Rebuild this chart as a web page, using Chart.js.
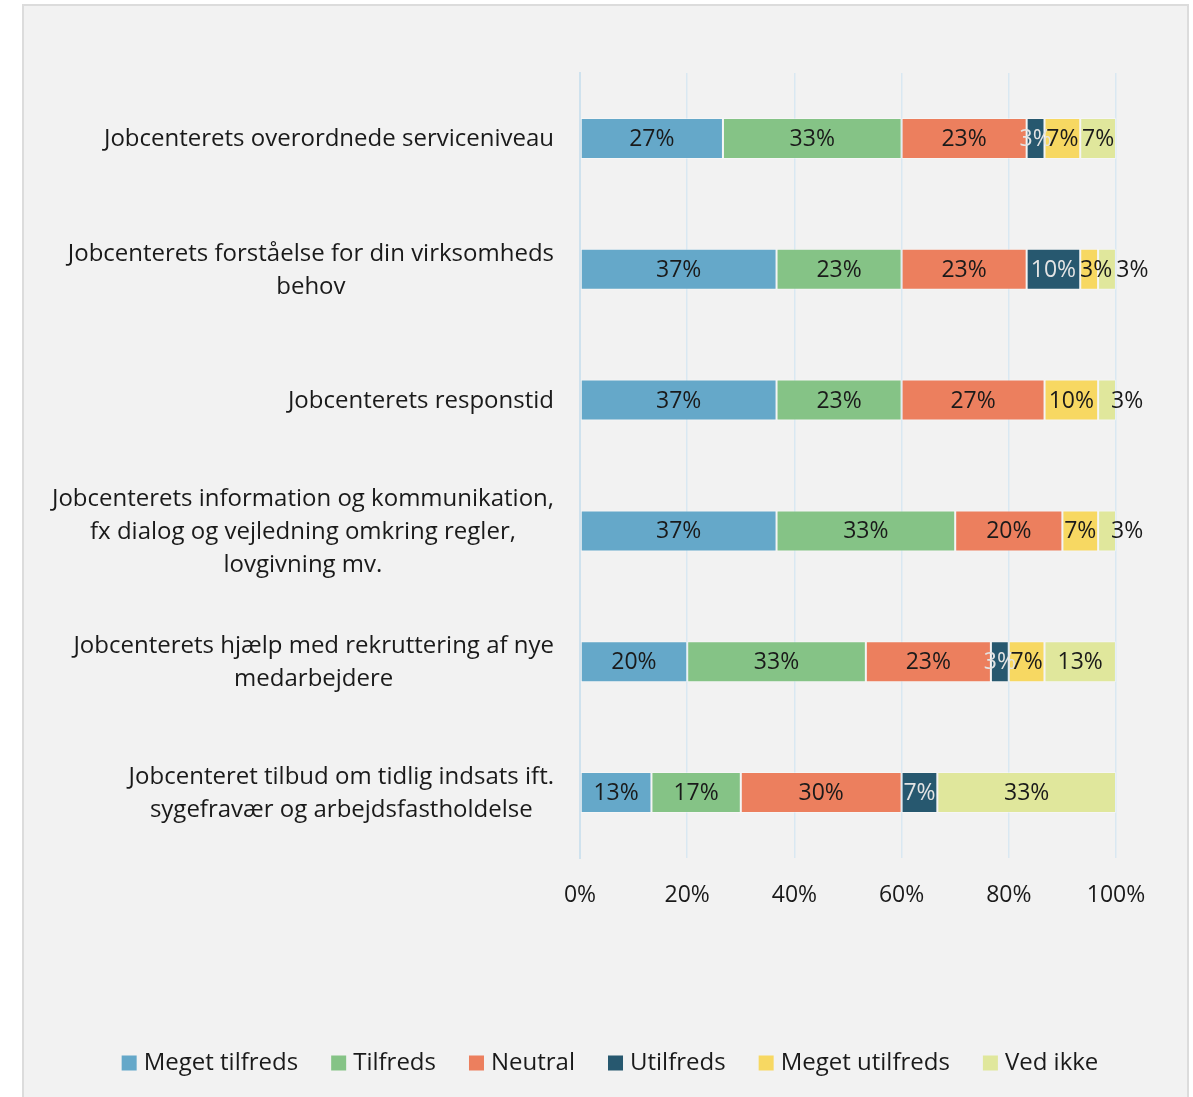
<!DOCTYPE html>
<html>
<head>
<meta charset="utf-8">
<script src="https://cdn.jsdelivr.net/npm/chart.js@4/dist/chart.umd.min.js"></script>
<style>
  html, body { margin:0; padding:0; background:#fff; }
  #box {
    position:absolute; left:22px; top:4px;
    width:1163px; height:1100px;
    border:2px solid #dcdcdc; background:#f2f2f2;
  }
  #wrap { position:absolute; left:0; top:0; width:1163px; height:1091px; }
</style>
</head>
<body>
<div id="box"><div id="wrap"><canvas id="chart"></canvas></div></div>
<script>
/* =====================
   data
===================== */
const categories = [
  ["Jobcenterets overordnede serviceniveau"],
  ["Jobcenterets forståelse for din virksomheds", "behov"],
  ["Jobcenterets responstid"],
  ["Jobcenterets information og kommunikation,", "fx dialog og vejledning omkring regler,", "lovgivning mv."],
  ["Jobcenterets hjælp med rekruttering af nye", "medarbejdere"],
  ["Jobcenteret tilbud om tidlig indsats ift.", "sygefravær og arbejdsfastholdelse"]
];

const seriesNames = ["Meget tilfreds", "Tilfreds", "Neutral", "Utilfreds", "Meget utilfreds", "Ved ikke"];

const megetTilfreds  = [26.67, 36.67, 36.67, 36.67, 20.00, 13.33];
const tilfreds       = [33.33, 23.33, 23.33, 33.33, 33.33, 16.67];
const neutral        = [23.33, 23.33, 26.67, 20.00, 23.33, 30.00];
const utilfreds      = [3.33, 10.00, 0, 0, 3.33, 6.67];
const megetUtilfreds = [6.67, 3.33, 10.00, 6.67, 6.67, 0];
const vedIkke        = [6.67, 3.33, 3.33, 3.33, 13.33, 33.33];

const xTicks = [0, 20, 40, 60, 80, 100];

const colors = ["#65a8c9", "#85c386", "#ec7f5e", "#27586f", "#f7d862", "#e0e79c"];
const labelColors = ["#1a1a1a", "#1a1a1a", "#1a1a1a", "#e4e4e4", "#1a1a1a", "#1a1a1a"];

const FONT = "'Open Sans', sans-serif";

/* =====================
   labels in the bars
===================== */
const barLabels = {
  id: "barLabels",
  afterDatasetsDraw(chart){
    const ctx = chart.ctx;
    ctx.save();
    ctx.font = "23px " + FONT;
    ctx.textBaseline = "middle";
    ctx.textAlign = "center";
    const n = chart.data.labels.length;
    for(let i=0;i<n;i++){
      // last non-zero segment of the row
      let last = -1;
      chart.data.datasets.forEach((ds,d)=>{ if(ds.data[i] > 0) last = d; });
      let prevRight = -Infinity;
      chart.data.datasets.forEach((ds,d)=>{
        const v = ds.data[i];
        if(!v) return;
        const el = chart.getDatasetMeta(d).data[i];
        const left = Math.min(el.x, el.base), right = Math.max(el.x, el.base);
        const txt = Math.round(v) + "%";
        const w = ctx.measureText(txt).width;
        let cx = (left + right) / 2;
        if(right - left < w){
          cx = Math.max(cx, prevRight + 4 + w/2);
          if(d === last) cx = Math.max(cx, right - 5 + w/2);
        }
        ctx.fillStyle = labelColors[d];
        ctx.fillText(txt, cx, el.y + 1);
        prevRight = cx + w/2;
      });
    }
    ctx.restore();
  }
};

/* =====================
   category labels (lines centred, block right aligned)
===================== */
const catLabels = {
  id: "catLabels",
  afterDraw(chart){
    const ctx = chart.ctx;
    const y = chart.scales.y;
    ctx.save();
    ctx.font = "24px " + FONT;
    ctx.fillStyle = "#1a1a1a";
    ctx.textAlign = "center";
    ctx.textBaseline = "middle";
    const rightX = 530, lh = 33;
    categories.forEach((lines,i)=>{
      const maxW = Math.max(...lines.map(l=>ctx.measureText(l).width));
      const cx = rightX - maxW/2;
      const cy = y.getPixelForValue(i) + 1;
      const top = cy - (lines.length-1)*lh/2;
      lines.forEach((l,k)=>ctx.fillText(l, cx, top + k*lh));
    });
    ctx.restore();
  }
};

/* =====================
   legend (own drawing, spacing like the original)
===================== */
const bottomLegend = {
  id: "bottomLegend",
  afterDraw(chart){
    const ctx = chart.ctx;
    ctx.save();
    ctx.font = "24px " + FONT;
    ctx.textBaseline = "middle";
    ctx.textAlign = "left";
    const box = 15, toText = 22, gap = 33, cy = 1057, centerX = 586;
    const widths = seriesNames.map(s=>ctx.measureText(s).width);
    const total = widths.reduce((a,w)=>a + toText + w, 0) + gap*(seriesNames.length-1);
    let x = centerX - total/2;
    seriesNames.forEach((s,k)=>{
      ctx.fillStyle = colors[k];
      ctx.fillRect(x, cy - box/2, box, box);
      ctx.fillStyle = "#1a1a1a";
      ctx.fillText(s, x + toText, cy);
      x += toText + widths[k] + gap;
    });
    ctx.restore();
  }
};

const data = [megetTilfreds, tilfreds, neutral, utilfreds, megetUtilfreds, vedIkke];

new Chart(document.getElementById("chart"), {
  type: "bar",
  data: {
    labels: categories,
    datasets: seriesNames.map((name,k)=>({
      label: name,
      data: data[k],
      backgroundColor: colors[k],
      borderColor: "rgba(255,255,255,0.35)",
      borderWidth: 1,
      borderSkipped: false,
      barPercentage: 1,
      categoryPercentage: 0.313
    }))
  },
  options: {
    indexAxis: "y",
    responsive: true,
    maintainAspectRatio: false,
    animation: false,
    layout: { padding: { top: 67, right: 71, left: 0, bottom: 0 } },
    scales: {
      x: {
        stacked: true,
        min: 0, max: 100,
        afterBuildTicks: s => { s.ticks = xTicks.map(v=>({value:v})); },
        afterFit: s => { s.height = 239; },
        grid: { color: "#d9e8f2", lineWidth: 1.5, drawTicks: false },
        border: { display: false },
        ticks: {
          padding: 24,
          color: "#1a1a1a",
          font: { family: FONT, size: 23 },
          callback: v => v + "%"
        }
      },
      y: {
        stacked: true,
        afterFit: s => { s.width = 556; },
        grid: { display: false },
        border: { display: true, color: "#cfe2ee", width: 2 },
        ticks: { display: false }
      }
    },
    plugins: {
      legend: { display: false },
      tooltip: { enabled: false }
    }
  },
  plugins: [barLabels, catLabels, bottomLegend]
});
</script>
</body>
</html>
